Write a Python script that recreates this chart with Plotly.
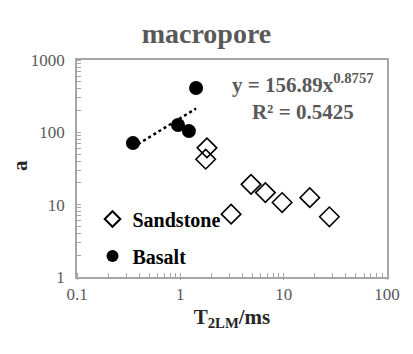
import numpy as np
import plotly.graph_objects as go

sand_x = [1.81, 1.76, 3.1, 4.83, 6.65, 9.66, 17.9, 27.7]
sand_y = [61, 42.5, 7.4, 19.1, 14.7, 10.7, 12.5, 6.8]
bas_x = [0.348, 0.95, 1.21, 1.42]
bas_y = [71, 126, 104, 411]
fit_a, fit_b = 156.89, 0.8757

FONT = "Liberation Serif, Times New Roman, serif"
GRAY = "#595959"
AX = "#a6a6a6"

fx = np.logspace(np.log10(min(bas_x)), np.log10(max(bas_x)), 30)
fy = fit_a * fx ** fit_b

fig = go.Figure()
fig.add_trace(go.Scatter(x=sand_x, y=sand_y, mode="markers", name="<b>Sandstone</b>",
                         legendgroup="s",
                         marker=dict(symbol="diamond-open", size=15, color="black",
                                     line=dict(width=1.6, color="black"))))
fig.add_trace(go.Scatter(x=bas_x, y=bas_y, mode="markers", name="<b>Basalt</b>",
                         legendgroup="b",
                         marker=dict(symbol="circle", size=14, color="black")))
fig.add_trace(go.Scatter(x=fx, y=fy, mode="lines", showlegend=False,
                         line=dict(color="black", width=2.5, dash="dot")))

fig.update_layout(
    width=413, height=354,
    margin=dict(l=77, r=26, t=60, b=77),
    paper_bgcolor="white", plot_bgcolor="white",
    font=dict(family=FONT, color=GRAY, size=17),
    title=dict(text="<b>macropore</b>", x=0.5, xanchor="center", y=0.905, yanchor="middle",
               font=dict(family=FONT, size=28, color=GRAY)),
    showlegend=True,
    legend=dict(x=0.05, y=0.357, xanchor="left", yanchor="top",
                bgcolor="rgba(0,0,0,0)", traceorder="grouped", tracegroupgap=8,
                font=dict(family=FONT, size=20, color="black"),
                itemsizing="constant", itemwidth=30),
    annotations=[dict(xref="paper", yref="paper", x=0.73, y=0.83, xanchor="center",
                      yanchor="middle", showarrow=False, align="center",
                      text="<b>y = 156.89x<sup>0.8757</sup><br>R² = 0.5425</b>",
                      font=dict(family=FONT, size=21, color=GRAY)),
                 dict(xref="paper", yref="paper", x=-0.184, y=0.516, xanchor="center",
                      yanchor="middle", showarrow=False, textangle=-90,
                      text="<b>a</b>", font=dict(family=FONT, size=21, color="#262626"))],
)
fig.update_xaxes(type="log", range=[-1, 2], dtick=1, showgrid=False, automargin=False,
                 showline=True, linecolor=AX, linewidth=1.5, mirror=True,
                 ticks="outside", ticklen=1, tickcolor=AX,
                 minor=dict(ticks="inside", ticklen=4, tickcolor=AX, dtick="D1"),
                 tickfont=dict(family=FONT, size=17, color=GRAY),
                 title=dict(text="<b>T<sub>2LM</sub>/ms</b>", standoff=6,
                            font=dict(family=FONT, size=21, color="#262626")))
fig.update_yaxes(type="log", range=[0, 3], dtick=1, showgrid=False, automargin=False,
                 showline=True, linecolor=AX, linewidth=1.5, mirror=True,
                 ticks="outside", ticklen=7, tickcolor="rgba(0,0,0,0)",
                 minor=dict(ticks="inside", ticklen=4, tickcolor=AX, dtick="D1"),
                 tickfont=dict(family=FONT, size=17, color=GRAY))

fig.write_html("out.html")
